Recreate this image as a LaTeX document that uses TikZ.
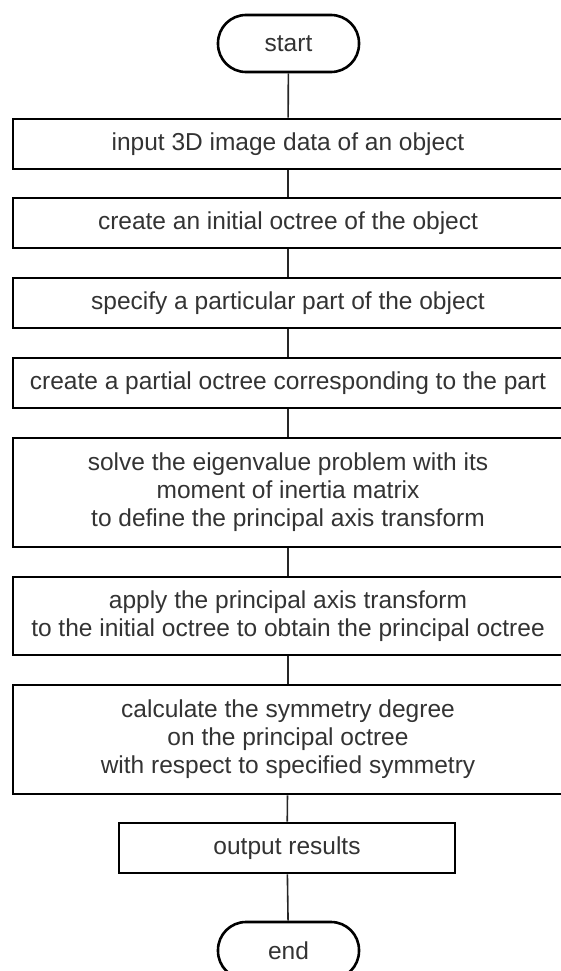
\documentclass[tikz,border=0pt]{standalone}
\usepackage{fontspec}
\setmainfont{Liberation Sans}
\usetikzlibrary{positioning}

\begin{document}
\begin{tikzpicture}[x=1pt,y=-1pt,
 every node/.style={font=\fontsize{24.5}{28}\selectfont,text=black!80},
 box/.style={draw=black,line width=2.6pt,align=center,inner sep=0pt,minimum width=550pt},
 term/.style={draw=black,line width=2.6pt,rounded corners=28pt,inner sep=0pt,minimum width=141pt,minimum height=57pt},
 link/.style={draw=black!85,line width=1.6pt}]
\useasboundingbox (0,0) rectangle (560,971);
\node[term] (start) at (288.5,43.5) {start};
\node[box,minimum height=50pt] (input) at (288,144) {input 3D image data of an object};
\node[box,minimum height=50pt] (initial) at (288,223) {create an initial octree of the object};
\node[box,minimum height=50pt] (part) at (288,303) {specify a particular part of the object};
\node[box,minimum height=50pt] (partial) at (288,383) {create a partial octree corresponding to the part};
\node[box,minimum height=109pt] (eigen) at (288,492.5) {solve the eigenvalue problem with its\\moment of inertia matrix\\to define the principal axis transform};
\node[box,minimum height=78pt] (apply) at (288,616) {apply the principal axis transform\\to the initial octree to obtain the principal octree};
\node[box,minimum height=109pt] (symm) at (288,739.5) {calculate the symmetry degree\\on the principal octree\\with respect to specified symmetry};
\node[box,minimum height=50pt,minimum width=336pt] (output) at (287,848) {output results};
\node[term] (stop) at (288.5,950.5) {end};
\draw[link] (start)--(input); \draw[link] (input)--(initial); \draw[link] (initial)--(part);
\draw[link] (part)--(partial); \draw[link] (partial)--(eigen); \draw[link] (eigen)--(apply);
\draw[link] (apply)--(symm); \draw[link] (symm)--(output); \draw[link] (output)--(stop);
\end{tikzpicture}
\end{document}
